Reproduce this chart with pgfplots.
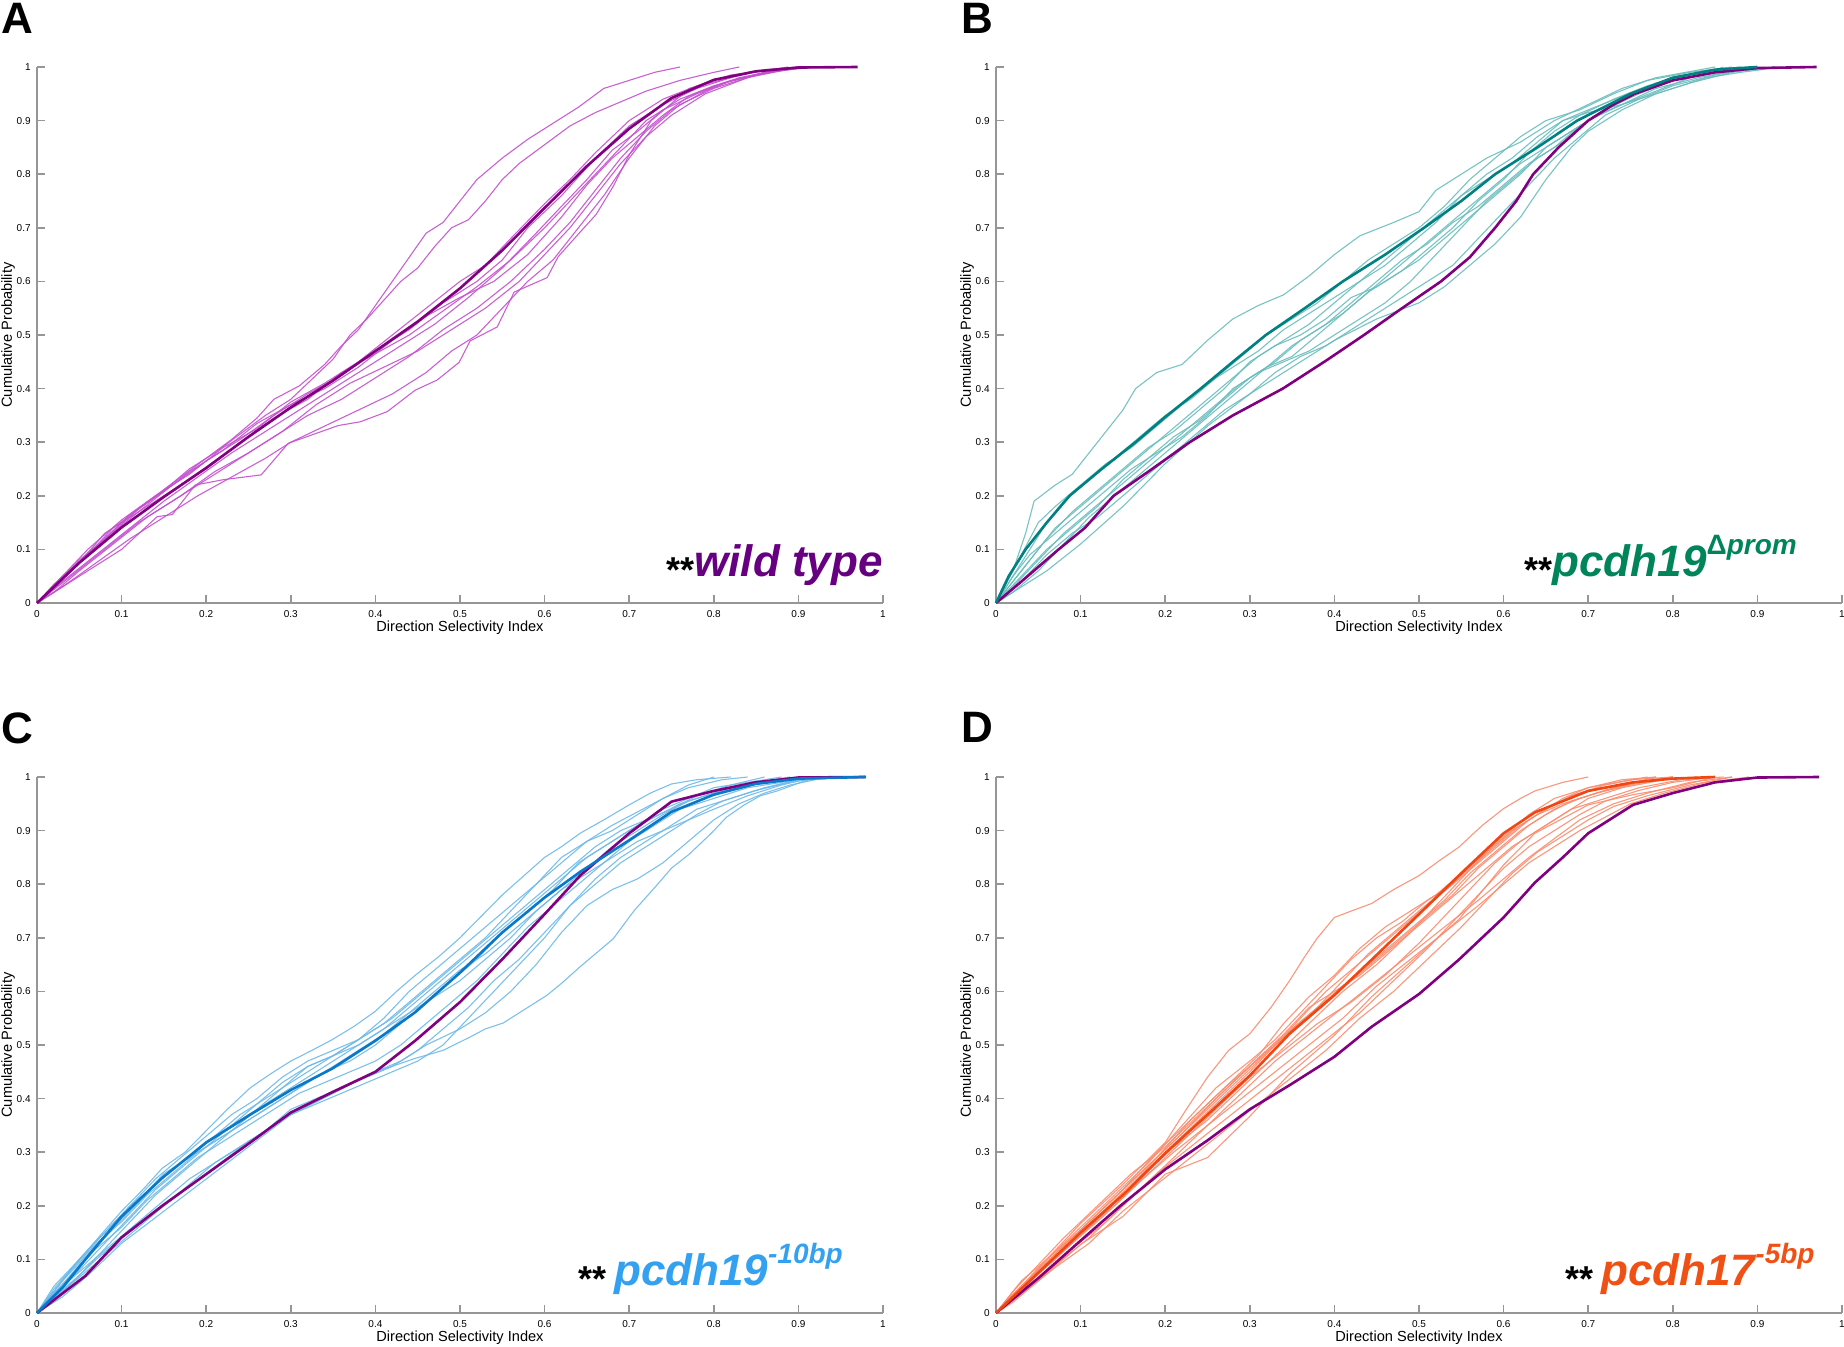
\documentclass[border=0pt]{standalone}
\usepackage{pgfplots}
\pgfplotsset{compat=1.18}
\usepackage{fontspec}
\setmainfont{Liberation Sans}
\definecolor{axgray}{RGB}{150,150,150}
\definecolor{wtThick}{RGB}{128,0,128}
\definecolor{wtThin}{RGB}{196,80,206}
\definecolor{tlThick}{RGB}{0,128,128}
\definecolor{tlThin}{RGB}{105,188,188}
\definecolor{blThick}{RGB}{10,120,200}
\definecolor{blThin}{RGB}{110,185,232}
\definecolor{orThick}{RGB}{240,70,20}
\definecolor{orThin}{RGB}{250,140,110}
\definecolor{wtLab}{RGB}{102,0,128}
\definecolor{tlLab}{RGB}{0,133,90}
\definecolor{blLab}{RGB}{51,161,240}
\definecolor{orLab}{RGB}{240,80,20}
\pgfplotsset{
 panel/.style={
  scale only axis, width=423pt, height=268pt,
  xmin=0, xmax=1, ymin=0, ymax=1,
  axis lines=left,
  axis line style={-, draw=axgray, line width=0.75pt},
  tick style={draw=axgray, line width=0.75pt},
  tick align=inside, major tick length=4pt,
  xtick={0,0.1,0.2,0.3,0.4,0.5,0.6,0.7,0.8,0.9,1},
  ytick={0,0.1,0.2,0.3,0.4,0.5,0.6,0.7,0.8,0.9,1},
  /pgf/number format/assume math mode=true,
  ticklabel style={font=\fontsize{5}{6}\selectfont, text=black},
  yticklabel style={inner sep=0pt, xshift=-3pt},
  xticklabel style={inner sep=0pt, yshift=-3.5pt},
  xlabel={Direction Selectivity Index},
  ylabel={Cumulative Probability},
  label style={font=\fontsize{7.3}{8}\selectfont},
  xlabel style={at={(axis description cs:0.5,-0.047)}, anchor=center},
  ylabel style={at={(axis description cs:-0.0343,0.5)}, anchor=center},
  clip=false,
  line join=round,
 },
 thinA/.style={wtThin, line width=0.55pt, opacity=0.9},
 thinB/.style={tlThin, line width=0.55pt, opacity=0.9},
 thinC/.style={blThin, line width=0.55pt, opacity=0.9},
 thinD/.style={orThin, line width=0.55pt, opacity=0.9},
 thickW/.style={wtThick, line width=1.3pt},
}
\newcommand{\stars}{{\color{black}\upshape\fontsize{18}{18}\selectfont\raisebox{-3pt}{**}}}
\begin{document}
\begin{tikzpicture}
\path[use as bounding box] (0,0) rectangle (922pt,673pt);
\node[anchor=north west, inner sep=0pt, font=\fontsize{22}{22}\selectfont\bfseries] at (0.5pt,671.5pt) {A};
\node[anchor=north west, inner sep=0pt, font=\fontsize{22}{22}\selectfont\bfseries] at (480.5pt,671.5pt) {B};
\node[anchor=north west, inner sep=0pt, font=\fontsize{22}{22}\selectfont\bfseries] at (0.5pt,317pt) {C};
\node[anchor=north west, inner sep=0pt, font=\fontsize{22}{22}\selectfont\bfseries] at (480.5pt,317pt) {D};

% ---------------- Panel A ----------------
\begin{axis}[panel, at={(18.5pt,371.5pt)}, anchor=south west]
\addplot[thinA] coordinates {(0,0)(0.02,0.03)(0.05,0.08)(0.08,0.12)(0.11,0.165)(0.14,0.2)(0.17,0.235)(0.2,0.27)(0.23,0.305)(0.26,0.345)(0.28,0.38)(0.31,0.405)(0.34,0.445)(0.36,0.48)(0.38,0.51)(0.4,0.555)(0.42,0.6)(0.44,0.645)(0.46,0.69)(0.48,0.71)(0.5,0.75)(0.52,0.79)(0.55,0.83)(0.58,0.865)(0.61,0.895)(0.64,0.925)(0.67,0.96)(0.7,0.975)(0.73,0.99)(0.76,1)};
\addplot[thinA] coordinates {(0,0)(0.03,0.045)(0.06,0.09)(0.09,0.14)(0.12,0.175)(0.15,0.21)(0.18,0.25)(0.21,0.28)(0.24,0.315)(0.27,0.35)(0.3,0.38)(0.33,0.425)(0.35,0.455)(0.37,0.5)(0.39,0.53)(0.41,0.565)(0.43,0.6)(0.45,0.625)(0.47,0.665)(0.49,0.7)(0.51,0.715)(0.53,0.75)(0.55,0.79)(0.57,0.82)(0.6,0.855)(0.63,0.89)(0.66,0.915)(0.69,0.935)(0.72,0.955)(0.76,0.975)(0.8,0.99)(0.83,1)};
\addplot[thinA] coordinates {(0,0)(0.03,0.05)(0.06,0.1)(0.1,0.155)(0.14,0.2)(0.18,0.24)(0.22,0.29)(0.26,0.325)(0.3,0.375)(0.34,0.41)(0.38,0.45)(0.42,0.5)(0.46,0.55)(0.5,0.6)(0.53,0.63)(0.56,0.68)(0.6,0.745)(0.63,0.79)(0.66,0.84)(0.7,0.9)(0.74,0.94)(0.78,0.965)(0.82,0.985)(0.87,0.995)(0.9,1)};
\addplot[thinA] coordinates {(0,0)(0.04,0.06)(0.08,0.12)(0.12,0.175)(0.16,0.22)(0.2,0.265)(0.24,0.305)(0.28,0.35)(0.32,0.39)(0.36,0.425)(0.4,0.47)(0.44,0.51)(0.48,0.56)(0.52,0.6)(0.55,0.64)(0.58,0.7)(0.62,0.76)(0.66,0.83)(0.7,0.89)(0.74,0.93)(0.78,0.96)(0.82,0.98)(0.86,0.995)(0.9,1)};
\addplot[thinA] coordinates {(0,0)(0.03,0.04)(0.07,0.09)(0.11,0.14)(0.15,0.19)(0.19,0.235)(0.23,0.28)(0.27,0.32)(0.31,0.36)(0.35,0.4)(0.39,0.44)(0.43,0.48)(0.47,0.52)(0.51,0.57)(0.55,0.625)(0.59,0.69)(0.62,0.74)(0.65,0.79)(0.68,0.845)(0.71,0.88)(0.74,0.92)(0.78,0.95)(0.82,0.975)(0.86,0.99)(0.92,1)};
\addplot[thinA] coordinates {(0,0)(0.02,0.035)(0.05,0.075)(0.08,0.13)(0.12,0.17)(0.16,0.21)(0.2,0.25)(0.24,0.3)(0.28,0.345)(0.32,0.38)(0.36,0.43)(0.4,0.465)(0.44,0.5)(0.48,0.545)(0.52,0.59)(0.56,0.64)(0.6,0.7)(0.63,0.75)(0.66,0.8)(0.69,0.85)(0.72,0.9)(0.76,0.94)(0.8,0.965)(0.85,0.985)(0.9,0.998)(0.94,1)};
\addplot[thinA] coordinates {(0,0)(0.04,0.05)(0.08,0.1)(0.12,0.15)(0.16,0.19)(0.2,0.23)(0.24,0.27)(0.28,0.31)(0.32,0.35)(0.36,0.38)(0.4,0.42)(0.44,0.46)(0.48,0.51)(0.52,0.55)(0.56,0.6)(0.6,0.66)(0.63,0.71)(0.66,0.77)(0.69,0.83)(0.72,0.88)(0.75,0.92)(0.79,0.955)(0.83,0.98)(0.88,0.995)(0.92,1)};
\addplot[thinA] coordinates {(0,0)(0.03,0.03)(0.07,0.075)(0.11,0.12)(0.15,0.16)(0.19,0.2)(0.23,0.235)(0.27,0.27)(0.3,0.3)(0.34,0.33)(0.38,0.36)(0.42,0.39)(0.46,0.43)(0.49,0.47)(0.52,0.5)(0.55,0.55)(0.58,0.6)(0.61,0.64)(0.64,0.7)(0.67,0.76)(0.7,0.83)(0.73,0.89)(0.76,0.93)(0.8,0.96)(0.85,0.985)(0.9,1)};
\addplot[thinA] coordinates {(0,0)(0.03,0.03)(0.06,0.06)(0.1,0.1)(0.142,0.161)(0.16,0.165)(0.187,0.22)(0.22,0.23)(0.265,0.239)(0.297,0.298)(0.356,0.331)(0.382,0.338)(0.414,0.357)(0.447,0.397)(0.473,0.416)(0.499,0.449)(0.512,0.489)(0.544,0.515)(0.564,0.58)(0.603,0.607)(0.616,0.646)(0.642,0.692)(0.661,0.725)(0.681,0.777)(0.7,0.836)(0.726,0.9)(0.771,0.96)(0.836,0.987)(0.888,1)};
\addplot[thinA] coordinates {(0,0)(0.02,0.02)(0.05,0.06)(0.09,0.11)(0.13,0.16)(0.17,0.2)(0.21,0.245)(0.25,0.28)(0.29,0.32)(0.33,0.37)(0.37,0.41)(0.41,0.44)(0.45,0.47)(0.49,0.51)(0.53,0.55)(0.57,0.6)(0.6,0.65)(0.63,0.7)(0.66,0.76)(0.69,0.82)(0.72,0.87)(0.75,0.91)(0.79,0.95)(0.84,0.98)(0.9,1)};
\addplot[thinA] coordinates {(0,0)(0.03,0.05)(0.06,0.09)(0.1,0.145)(0.14,0.195)(0.18,0.245)(0.22,0.285)(0.26,0.335)(0.3,0.37)(0.34,0.4)(0.38,0.44)(0.42,0.49)(0.46,0.535)(0.5,0.57)(0.54,0.6)(0.58,0.65)(0.62,0.72)(0.65,0.78)(0.68,0.83)(0.71,0.87)(0.74,0.91)(0.77,0.945)(0.81,0.97)(0.86,0.99)(0.9,1)};
\addplot[thickW] coordinates {(0,0)(0.05,0.075)(0.1,0.141)(0.15,0.198)(0.2,0.252)(0.25,0.31)(0.3,0.365)(0.35,0.415)(0.4,0.47)(0.45,0.525)(0.5,0.587)(0.55,0.658)(0.6,0.737)(0.65,0.815)(0.7,0.885)(0.75,0.942)(0.8,0.976)(0.85,0.992)(0.9,0.999)(0.97,1)};
\node[anchor=base east, inner sep=0pt, text=wtLab, font=\fontsize{22}{22}\selectfont\bfseries\itshape] at (rel axis cs:1,0.05) {\stars wild type};
\end{axis}

% ---------------- Panel B ----------------
\begin{axis}[panel, at={(498pt,371.5pt)}, anchor=south west]
\addplot[thinB] coordinates {(0,0)(0.02,0.06)(0.035,0.13)(0.045,0.19)(0.07,0.22)(0.09,0.24)(0.11,0.28)(0.13,0.32)(0.15,0.36)(0.165,0.4)(0.19,0.43)(0.22,0.445)(0.25,0.49)(0.28,0.53)(0.31,0.555)(0.34,0.575)(0.37,0.61)(0.4,0.65)(0.43,0.685)(0.47,0.71)(0.5,0.73)(0.52,0.77)(0.55,0.8)(0.58,0.83)(0.62,0.86)(0.66,0.9)(0.7,0.93)(0.74,0.96)(0.78,0.98)(0.85,1)};
\addplot[thinB] coordinates {(0,0)(0.02,0.05)(0.04,0.1)(0.06,0.15)(0.08,0.19)(0.11,0.23)(0.14,0.27)(0.17,0.31)(0.2,0.35)(0.23,0.38)(0.26,0.42)(0.29,0.46)(0.32,0.5)(0.35,0.53)(0.38,0.56)(0.41,0.6)(0.44,0.64)(0.47,0.67)(0.5,0.7)(0.53,0.74)(0.56,0.79)(0.59,0.83)(0.62,0.87)(0.65,0.9)(0.69,0.92)(0.73,0.95)(0.77,0.975)(0.82,0.99)(0.87,1)};
\addplot[thinB] coordinates {(0,0)(0.02,0.04)(0.045,0.09)(0.07,0.14)(0.1,0.18)(0.13,0.22)(0.16,0.26)(0.19,0.3)(0.22,0.34)(0.25,0.38)(0.28,0.42)(0.31,0.46)(0.34,0.49)(0.37,0.52)(0.4,0.56)(0.43,0.6)(0.46,0.63)(0.49,0.67)(0.52,0.71)(0.55,0.76)(0.58,0.8)(0.61,0.83)(0.64,0.87)(0.67,0.9)(0.7,0.92)(0.74,0.945)(0.78,0.97)(0.83,0.99)(0.88,1)};
\addplot[thinB] coordinates {(0,0)(0.03,0.06)(0.06,0.12)(0.09,0.17)(0.12,0.21)(0.15,0.25)(0.18,0.29)(0.21,0.32)(0.24,0.36)(0.27,0.4)(0.3,0.45)(0.33,0.48)(0.36,0.5)(0.39,0.53)(0.42,0.57)(0.45,0.59)(0.48,0.62)(0.51,0.66)(0.54,0.7)(0.57,0.75)(0.6,0.79)(0.63,0.84)(0.66,0.88)(0.69,0.91)(0.73,0.94)(0.77,0.965)(0.82,0.985)(0.88,1)};
\addplot[thinB] coordinates {(0,0)(0.02,0.03)(0.05,0.08)(0.08,0.13)(0.11,0.17)(0.14,0.21)(0.17,0.25)(0.2,0.29)(0.23,0.33)(0.26,0.37)(0.29,0.41)(0.32,0.44)(0.35,0.46)(0.38,0.5)(0.41,0.54)(0.44,0.58)(0.47,0.61)(0.5,0.64)(0.53,0.68)(0.56,0.72)(0.59,0.76)(0.62,0.8)(0.65,0.85)(0.68,0.88)(0.72,0.92)(0.76,0.95)(0.8,0.975)(0.86,0.995)(0.9,1)};
\addplot[thinB] coordinates {(0,0)(0.03,0.04)(0.06,0.09)(0.09,0.13)(0.12,0.16)(0.15,0.2)(0.18,0.24)(0.21,0.28)(0.24,0.32)(0.27,0.36)(0.3,0.39)(0.33,0.43)(0.36,0.46)(0.39,0.48)(0.42,0.51)(0.45,0.54)(0.48,0.57)(0.51,0.6)(0.54,0.63)(0.57,0.68)(0.6,0.73)(0.63,0.78)(0.66,0.83)(0.69,0.87)(0.72,0.91)(0.76,0.94)(0.8,0.965)(0.85,0.985)(0.9,1)};
\addplot[thinB] coordinates {(0,0)(0.03,0.03)(0.06,0.06)(0.1,0.11)(0.15,0.18)(0.2,0.26)(0.25,0.33)(0.3,0.39)(0.35,0.44)(0.4,0.49)(0.45,0.53)(0.5,0.56)(0.53,0.59)(0.56,0.63)(0.59,0.67)(0.62,0.72)(0.65,0.79)(0.68,0.85)(0.7,0.88)(0.74,0.92)(0.78,0.95)(0.82,0.97)(0.87,0.99)(0.92,1)};
\addplot[thinB] coordinates {(0,0)(0.02,0.05)(0.04,0.09)(0.07,0.13)(0.1,0.17)(0.13,0.21)(0.16,0.25)(0.19,0.28)(0.22,0.31)(0.25,0.35)(0.28,0.4)(0.31,0.43)(0.34,0.45)(0.37,0.47)(0.4,0.5)(0.43,0.53)(0.46,0.56)(0.49,0.6)(0.52,0.65)(0.55,0.7)(0.58,0.75)(0.61,0.79)(0.64,0.83)(0.67,0.86)(0.7,0.9)(0.74,0.93)(0.78,0.96)(0.83,0.98)(0.88,0.995)(0.92,1)};
\addplot[thinB] coordinates {(0,0)(0.01,0.03)(0.03,0.09)(0.05,0.15)(0.07,0.18)(0.1,0.22)(0.13,0.26)(0.16,0.29)(0.19,0.33)(0.22,0.37)(0.25,0.41)(0.28,0.44)(0.31,0.47)(0.34,0.51)(0.37,0.54)(0.4,0.57)(0.43,0.6)(0.46,0.64)(0.49,0.68)(0.52,0.72)(0.55,0.76)(0.58,0.79)(0.61,0.82)(0.64,0.86)(0.67,0.9)(0.7,0.915)(0.74,0.93)(0.78,0.955)(0.82,0.98)(0.86,1)};
\addplot[thinB] coordinates {(0,0)(0.03,0.05)(0.06,0.1)(0.09,0.14)(0.12,0.18)(0.15,0.23)(0.18,0.27)(0.21,0.31)(0.24,0.34)(0.27,0.38)(0.3,0.42)(0.33,0.45)(0.36,0.49)(0.39,0.52)(0.42,0.56)(0.45,0.6)(0.48,0.64)(0.51,0.67)(0.54,0.71)(0.57,0.74)(0.6,0.78)(0.63,0.82)(0.66,0.85)(0.69,0.89)(0.72,0.92)(0.75,0.95)(0.79,0.97)(0.84,0.99)(0.9,1)};
\addplot[thinB] coordinates {(0,0)(0.02,0.02)(0.05,0.06)(0.08,0.11)(0.11,0.16)(0.14,0.2)(0.17,0.24)(0.2,0.28)(0.23,0.32)(0.26,0.36)(0.29,0.4)(0.32,0.44)(0.35,0.48)(0.38,0.51)(0.41,0.54)(0.44,0.58)(0.47,0.62)(0.5,0.66)(0.53,0.7)(0.56,0.74)(0.59,0.78)(0.62,0.82)(0.65,0.85)(0.68,0.88)(0.71,0.91)(0.74,0.93)(0.77,0.945)(0.8,0.96)(0.84,0.98)(0.88,0.99)(0.93,1)};
\addplot[thickW] coordinates {(0,0)(0.03,0.04)(0.074,0.1)(0.105,0.14)(0.139,0.2)(0.18,0.245)(0.229,0.3)(0.28,0.35)(0.339,0.4)(0.39,0.452)(0.435,0.5)(0.48,0.55)(0.526,0.6)(0.56,0.645)(0.59,0.7)(0.615,0.75)(0.635,0.8)(0.665,0.85)(0.7,0.9)(0.73,0.93)(0.755,0.95)(0.8,0.975)(0.85,0.99)(0.9,0.998)(0.97,1)};
\addplot[tlThick, line width=1.3pt] coordinates {(0,0)(0.015,0.05)(0.035,0.1)(0.06,0.15)(0.087,0.2)(0.125,0.25)(0.165,0.3)(0.2,0.347)(0.242,0.4)(0.28,0.45)(0.319,0.5)(0.365,0.55)(0.41,0.6)(0.46,0.65)(0.506,0.7)(0.55,0.75)(0.59,0.8)(0.64,0.85)(0.687,0.9)(0.75,0.95)(0.8,0.98)(0.85,0.995)(0.9,1)};
\node[anchor=base east, inner sep=0pt, text=tlLab, font=\fontsize{22}{22}\selectfont\bfseries\itshape] at (rel axis cs:0.947,0.05) {\stars pcdh19\raisebox{11pt}{\fontsize{14}{14}\selectfont{\upshape Δ}prom}};
\end{axis}

% ---------------- Panel C ----------------
\begin{axis}[panel, at={(18.5pt,16.5pt)}, anchor=south west]
\addplot[thinC] coordinates {(0,0)(0.02,0.045)(0.05,0.1)(0.075,0.145)(0.1,0.19)(0.125,0.23)(0.148,0.27)(0.175,0.3)(0.2,0.34)(0.225,0.38)(0.252,0.42)(0.275,0.445)(0.3,0.47)(0.325,0.49)(0.349,0.51)(0.375,0.535)(0.4,0.563)(0.425,0.6)(0.447,0.63)(0.475,0.665)(0.5,0.7)(0.525,0.74)(0.55,0.78)(0.575,0.815)(0.6,0.85)(0.62,0.87)(0.642,0.895)(0.67,0.92)(0.7,0.948)(0.725,0.97)(0.75,0.987)(0.78,0.995)(0.82,1)};
\addplot[thinC] coordinates {(0,0)(0.03,0.03)(0.06,0.07)(0.1,0.13)(0.15,0.19)(0.2,0.25)(0.25,0.31)(0.3,0.37)(0.35,0.41)(0.382,0.436)(0.41,0.455)(0.447,0.475)(0.48,0.49)(0.512,0.515)(0.53,0.53)(0.551,0.541)(0.575,0.565)(0.603,0.593)(0.62,0.615)(0.642,0.646)(0.66,0.67)(0.681,0.698)(0.706,0.751)(0.732,0.797)(0.75,0.83)(0.771,0.856)(0.797,0.895)(0.815,0.925)(0.836,0.948)(0.855,0.965)(0.875,0.974)(0.908,0.993)(0.93,1)};
\addplot[thinC] coordinates {(0,0)(0.03,0.04)(0.07,0.1)(0.1,0.14)(0.15,0.2)(0.2,0.26)(0.25,0.32)(0.3,0.37)(0.35,0.41)(0.4,0.45)(0.43,0.47)(0.46,0.5)(0.5,0.53)(0.53,0.56)(0.56,0.6)(0.59,0.65)(0.62,0.71)(0.65,0.76)(0.68,0.79)(0.71,0.81)(0.74,0.84)(0.77,0.88)(0.8,0.92)(0.83,0.95)(0.86,0.97)(0.89,0.985)(0.92,0.995)(0.95,1)};
\addplot[thinC] coordinates {(0,0)(0.02,0.035)(0.05,0.09)(0.08,0.14)(0.11,0.19)(0.14,0.24)(0.17,0.28)(0.2,0.32)(0.23,0.35)(0.26,0.38)(0.29,0.42)(0.32,0.46)(0.35,0.48)(0.38,0.5)(0.41,0.53)(0.44,0.57)(0.47,0.61)(0.5,0.65)(0.53,0.69)(0.56,0.73)(0.59,0.77)(0.62,0.81)(0.65,0.85)(0.68,0.88)(0.71,0.91)(0.74,0.94)(0.77,0.96)(0.8,0.98)(0.84,0.99)(0.88,1)};
\addplot[thinC] coordinates {(0,0)(0.03,0.06)(0.06,0.11)(0.09,0.16)(0.12,0.21)(0.15,0.26)(0.18,0.29)(0.21,0.33)(0.24,0.37)(0.27,0.4)(0.3,0.43)(0.33,0.46)(0.36,0.49)(0.39,0.52)(0.42,0.55)(0.45,0.59)(0.48,0.63)(0.51,0.67)(0.54,0.71)(0.57,0.75)(0.6,0.79)(0.63,0.83)(0.66,0.87)(0.69,0.9)(0.72,0.92)(0.75,0.94)(0.78,0.965)(0.82,0.985)(0.86,1)};
\addplot[thinC] coordinates {(0,0)(0.02,0.03)(0.05,0.08)(0.08,0.13)(0.11,0.18)(0.14,0.23)(0.17,0.27)(0.2,0.31)(0.23,0.34)(0.26,0.37)(0.29,0.4)(0.32,0.43)(0.35,0.46)(0.38,0.49)(0.41,0.52)(0.44,0.56)(0.47,0.6)(0.5,0.64)(0.53,0.67)(0.56,0.71)(0.59,0.75)(0.62,0.79)(0.65,0.83)(0.68,0.87)(0.71,0.9)(0.74,0.93)(0.77,0.955)(0.81,0.975)(0.85,0.99)(0.89,1)};
\addplot[thinC] coordinates {(0,0)(0.02,0.04)(0.05,0.1)(0.08,0.15)(0.11,0.2)(0.14,0.25)(0.17,0.29)(0.2,0.33)(0.23,0.37)(0.26,0.4)(0.29,0.44)(0.32,0.47)(0.35,0.49)(0.38,0.51)(0.41,0.54)(0.44,0.58)(0.47,0.62)(0.5,0.66)(0.53,0.7)(0.56,0.75)(0.59,0.8)(0.62,0.84)(0.65,0.88)(0.68,0.91)(0.71,0.935)(0.74,0.96)(0.77,0.98)(0.81,0.995)(0.84,1)};
\addplot[thinC] coordinates {(0,0)(0.03,0.04)(0.06,0.08)(0.09,0.12)(0.12,0.16)(0.15,0.2)(0.18,0.24)(0.21,0.28)(0.24,0.31)(0.27,0.34)(0.3,0.37)(0.33,0.39)(0.36,0.41)(0.39,0.43)(0.42,0.45)(0.45,0.47)(0.48,0.5)(0.51,0.55)(0.54,0.6)(0.57,0.65)(0.6,0.7)(0.63,0.76)(0.66,0.81)(0.69,0.85)(0.72,0.88)(0.75,0.91)(0.78,0.94)(0.82,0.96)(0.86,0.98)(0.9,0.995)(0.94,1)};
\addplot[thinC] coordinates {(0,0)(0.03,0.05)(0.06,0.09)(0.09,0.13)(0.12,0.17)(0.15,0.21)(0.18,0.25)(0.21,0.28)(0.24,0.31)(0.27,0.34)(0.3,0.38)(0.33,0.4)(0.36,0.42)(0.39,0.44)(0.42,0.46)(0.45,0.49)(0.48,0.53)(0.51,0.57)(0.54,0.62)(0.57,0.66)(0.6,0.71)(0.63,0.76)(0.66,0.8)(0.69,0.84)(0.72,0.87)(0.75,0.9)(0.78,0.93)(0.81,0.955)(0.85,0.975)(0.89,0.99)(0.93,1)};
\addplot[thinC] coordinates {(0,0)(0.02,0.04)(0.04,0.08)(0.07,0.13)(0.1,0.17)(0.13,0.22)(0.16,0.26)(0.19,0.3)(0.22,0.33)(0.25,0.36)(0.28,0.39)(0.31,0.42)(0.34,0.45)(0.37,0.47)(0.4,0.5)(0.43,0.54)(0.46,0.58)(0.49,0.62)(0.52,0.66)(0.55,0.71)(0.58,0.75)(0.61,0.79)(0.64,0.84)(0.67,0.87)(0.7,0.9)(0.73,0.925)(0.76,0.95)(0.8,0.97)(0.85,0.99)(0.9,1)};
\addplot[thinC] coordinates {(0,0)(0.01,0.02)(0.04,0.07)(0.07,0.12)(0.1,0.16)(0.13,0.21)(0.16,0.25)(0.19,0.29)(0.22,0.32)(0.25,0.35)(0.28,0.38)(0.31,0.41)(0.34,0.43)(0.37,0.45)(0.4,0.47)(0.43,0.5)(0.46,0.54)(0.49,0.58)(0.52,0.62)(0.55,0.67)(0.58,0.72)(0.61,0.76)(0.64,0.8)(0.67,0.84)(0.7,0.88)(0.73,0.91)(0.76,0.94)(0.8,0.96)(0.84,0.98)(0.88,0.99)(0.92,1)};
\addplot[thinC] coordinates {(0,0)(0.02,0.05)(0.05,0.1)(0.08,0.15)(0.11,0.2)(0.14,0.24)(0.17,0.28)(0.2,0.31)(0.23,0.35)(0.26,0.39)(0.29,0.43)(0.32,0.46)(0.35,0.48)(0.38,0.51)(0.41,0.55)(0.44,0.6)(0.47,0.64)(0.5,0.68)(0.53,0.72)(0.56,0.76)(0.59,0.8)(0.62,0.85)(0.65,0.88)(0.68,0.9)(0.71,0.93)(0.74,0.96)(0.77,0.985)(0.8,1)};
\addplot[thinC] coordinates {(0,0)(0.02,0.03)(0.05,0.07)(0.08,0.12)(0.11,0.17)(0.14,0.22)(0.17,0.26)(0.2,0.3)(0.23,0.34)(0.26,0.38)(0.29,0.41)(0.32,0.44)(0.35,0.47)(0.38,0.5)(0.41,0.53)(0.44,0.56)(0.47,0.59)(0.5,0.62)(0.53,0.66)(0.56,0.7)(0.59,0.75)(0.62,0.79)(0.65,0.82)(0.68,0.85)(0.71,0.88)(0.74,0.9)(0.77,0.92)(0.8,0.94)(0.84,0.965)(0.88,0.985)(0.92,1)};
\addplot[thickW] coordinates {(0,0)(0.057,0.069)(0.1,0.141)(0.148,0.2)(0.2,0.259)(0.252,0.318)(0.3,0.374)(0.349,0.412)(0.4,0.45)(0.447,0.508)(0.5,0.58)(0.55,0.66)(0.6,0.744)(0.642,0.816)(0.7,0.895)(0.75,0.954)(0.8,0.974)(0.849,0.99)(0.9,0.999)(0.979,1)};
\addplot[blThick, line width=1.3pt] coordinates {(0,0)(0.031,0.049)(0.065,0.115)(0.1,0.18)(0.148,0.252)(0.2,0.318)(0.252,0.37)(0.3,0.416)(0.349,0.456)(0.4,0.508)(0.447,0.561)(0.5,0.635)(0.55,0.71)(0.6,0.775)(0.642,0.823)(0.7,0.882)(0.75,0.935)(0.8,0.967)(0.849,0.987)(0.9,0.997)(0.98,1)};
\node[anchor=base east, inner sep=0pt, text=blLab, font=\fontsize{22}{22}\selectfont\bfseries\itshape] at (rel axis cs:0.953,0.052) {\stars\hspace{4pt}pcdh19\raisebox{11pt}{\fontsize{14}{14}\selectfont -10bp}};
\end{axis}

% ---------------- Panel D ----------------
\begin{axis}[panel, at={(498pt,16.5pt)}, anchor=south west]
\addplot[thinD] coordinates {(0,0)(0.03,0.05)(0.06,0.1)(0.1,0.167)(0.15,0.24)(0.2,0.318)(0.225,0.38)(0.25,0.44)(0.275,0.49)(0.3,0.521)(0.325,0.57)(0.347,0.62)(0.365,0.665)(0.379,0.698)(0.4,0.738)(0.42,0.75)(0.444,0.764)(0.47,0.79)(0.5,0.816)(0.525,0.845)(0.547,0.869)(0.575,0.91)(0.6,0.941)(0.62,0.96)(0.637,0.974)(0.67,0.99)(0.7,1)};
\addplot[thinD] coordinates {(0,0)(0.05,0.06)(0.1,0.128)(0.15,0.18)(0.2,0.259)(0.25,0.29)(0.3,0.367)(0.347,0.446)(0.4,0.518)(0.444,0.59)(0.5,0.669)(0.547,0.734)(0.6,0.836)(0.637,0.895)(0.7,0.948)(0.753,0.967)(0.8,0.98)(0.85,1)};
\addplot[thinD] coordinates {(0,0)(0.03,0.04)(0.06,0.09)(0.1,0.15)(0.14,0.21)(0.18,0.27)(0.22,0.33)(0.26,0.39)(0.3,0.45)(0.33,0.5)(0.36,0.55)(0.39,0.6)(0.42,0.64)(0.45,0.68)(0.48,0.72)(0.51,0.76)(0.54,0.8)(0.57,0.85)(0.6,0.89)(0.63,0.93)(0.66,0.96)(0.7,0.98)(0.75,0.995)(0.8,1)};
\addplot[thinD] coordinates {(0,0)(0.03,0.05)(0.07,0.11)(0.11,0.17)(0.15,0.23)(0.19,0.29)(0.23,0.35)(0.27,0.41)(0.31,0.47)(0.35,0.53)(0.38,0.57)(0.41,0.62)(0.44,0.67)(0.47,0.71)(0.5,0.75)(0.53,0.79)(0.56,0.83)(0.59,0.87)(0.62,0.91)(0.65,0.94)(0.68,0.965)(0.72,0.985)(0.77,1)};
\addplot[thinD] coordinates {(0,0)(0.02,0.03)(0.05,0.08)(0.09,0.13)(0.13,0.19)(0.17,0.25)(0.21,0.31)(0.25,0.36)(0.29,0.42)(0.33,0.48)(0.37,0.54)(0.41,0.6)(0.45,0.65)(0.49,0.71)(0.52,0.75)(0.55,0.79)(0.58,0.83)(0.61,0.87)(0.64,0.9)(0.67,0.93)(0.7,0.96)(0.74,0.98)(0.79,0.995)(0.83,1)};
\addplot[thinD] coordinates {(0,0)(0.03,0.04)(0.07,0.09)(0.11,0.14)(0.15,0.2)(0.19,0.26)(0.23,0.31)(0.27,0.36)(0.31,0.41)(0.35,0.46)(0.39,0.51)(0.43,0.56)(0.47,0.62)(0.51,0.68)(0.54,0.73)(0.57,0.78)(0.6,0.83)(0.63,0.87)(0.66,0.9)(0.69,0.93)(0.72,0.955)(0.76,0.975)(0.8,0.99)(0.85,1)};
\addplot[thinD] coordinates {(0,0)(0.02,0.04)(0.05,0.09)(0.08,0.14)(0.12,0.2)(0.16,0.26)(0.2,0.31)(0.24,0.37)(0.28,0.43)(0.32,0.49)(0.35,0.53)(0.38,0.57)(0.41,0.61)(0.44,0.65)(0.47,0.69)(0.5,0.73)(0.53,0.77)(0.56,0.82)(0.59,0.86)(0.62,0.9)(0.65,0.93)(0.68,0.955)(0.72,0.975)(0.76,0.99)(0.8,1)};
\addplot[thinD] coordinates {(0,0)(0.03,0.06)(0.06,0.1)(0.1,0.16)(0.14,0.22)(0.18,0.28)(0.22,0.35)(0.26,0.42)(0.3,0.47)(0.33,0.51)(0.36,0.56)(0.39,0.61)(0.42,0.66)(0.45,0.7)(0.48,0.73)(0.51,0.77)(0.54,0.8)(0.57,0.84)(0.6,0.88)(0.63,0.92)(0.66,0.95)(0.7,0.975)(0.75,0.99)(0.8,1)};
\addplot[thinD] coordinates {(0,0)(0.03,0.035)(0.07,0.085)(0.11,0.13)(0.15,0.19)(0.19,0.24)(0.23,0.29)(0.27,0.34)(0.31,0.39)(0.35,0.44)(0.39,0.49)(0.43,0.55)(0.47,0.6)(0.51,0.66)(0.55,0.72)(0.58,0.77)(0.61,0.82)(0.64,0.86)(0.67,0.89)(0.7,0.92)(0.73,0.945)(0.77,0.965)(0.82,0.985)(0.87,1)};
\addplot[thinD] coordinates {(0,0)(0.02,0.03)(0.06,0.09)(0.1,0.15)(0.14,0.2)(0.18,0.26)(0.22,0.32)(0.26,0.38)(0.3,0.44)(0.34,0.49)(0.38,0.54)(0.42,0.58)(0.46,0.63)(0.5,0.69)(0.53,0.74)(0.56,0.79)(0.59,0.84)(0.62,0.88)(0.65,0.91)(0.68,0.94)(0.72,0.96)(0.76,0.98)(0.81,0.995)(0.86,1)};
\addplot[thinD] coordinates {(0,0)(0.03,0.05)(0.06,0.1)(0.1,0.155)(0.14,0.215)(0.18,0.275)(0.22,0.335)(0.26,0.4)(0.3,0.46)(0.34,0.52)(0.37,0.57)(0.4,0.6)(0.43,0.63)(0.46,0.67)(0.49,0.71)(0.52,0.76)(0.55,0.81)(0.58,0.86)(0.61,0.9)(0.64,0.93)(0.67,0.95)(0.71,0.97)(0.75,0.985)(0.8,1)};
\addplot[thinD] coordinates {(0,0)(0.02,0.035)(0.05,0.075)(0.09,0.13)(0.13,0.185)(0.17,0.245)(0.21,0.3)(0.25,0.35)(0.29,0.41)(0.33,0.47)(0.37,0.52)(0.41,0.57)(0.45,0.62)(0.49,0.67)(0.53,0.72)(0.57,0.77)(0.6,0.81)(0.63,0.85)(0.66,0.885)(0.69,0.92)(0.73,0.95)(0.77,0.97)(0.82,0.99)(0.87,1)};
\addplot[thinD] coordinates {(0,0)(0.03,0.045)(0.07,0.1)(0.11,0.16)(0.15,0.22)(0.19,0.29)(0.23,0.36)(0.27,0.42)(0.31,0.48)(0.34,0.54)(0.37,0.59)(0.4,0.63)(0.43,0.68)(0.46,0.72)(0.49,0.75)(0.52,0.78)(0.55,0.82)(0.58,0.86)(0.61,0.9)(0.64,0.93)(0.67,0.96)(0.7,0.98)(0.74,0.995)(0.78,1)};
\addplot[thinD] coordinates {(0,0)(0.02,0.02)(0.05,0.06)(0.09,0.12)(0.13,0.17)(0.17,0.23)(0.21,0.29)(0.25,0.35)(0.29,0.4)(0.33,0.45)(0.37,0.5)(0.41,0.55)(0.45,0.61)(0.49,0.66)(0.53,0.71)(0.57,0.76)(0.6,0.8)(0.63,0.84)(0.66,0.87)(0.69,0.9)(0.72,0.925)(0.75,0.95)(0.79,0.97)(0.84,0.99)(0.89,1)};
\addplot[thinD] coordinates {(0,0)(0.03,0.05)(0.07,0.11)(0.11,0.17)(0.15,0.23)(0.19,0.3)(0.23,0.36)(0.27,0.42)(0.3,0.46)(0.33,0.5)(0.36,0.54)(0.39,0.58)(0.42,0.62)(0.45,0.66)(0.48,0.7)(0.51,0.74)(0.54,0.78)(0.57,0.83)(0.6,0.87)(0.63,0.91)(0.66,0.94)(0.69,0.96)(0.73,0.98)(0.78,1)};
\addplot[thickW] coordinates {(0,0)(0.05,0.065)(0.1,0.135)(0.147,0.2)(0.2,0.268)(0.25,0.322)(0.3,0.38)(0.347,0.425)(0.4,0.478)(0.444,0.534)(0.5,0.595)(0.547,0.659)(0.6,0.738)(0.637,0.803)(0.67,0.85)(0.7,0.895)(0.753,0.948)(0.8,0.97)(0.85,0.99)(0.9,0.999)(0.973,1)};
\addplot[orThick, line width=1.3pt] coordinates {(0,0)(0.05,0.075)(0.1,0.15)(0.154,0.226)(0.2,0.298)(0.25,0.37)(0.3,0.443)(0.347,0.521)(0.4,0.593)(0.444,0.659)(0.5,0.744)(0.547,0.816)(0.6,0.895)(0.637,0.934)(0.7,0.974)(0.753,0.99)(0.8,0.997)(0.85,1)};
\node[anchor=base east, inner sep=0pt, text=orLab, font=\fontsize{22}{22}\selectfont\bfseries\itshape] at (rel axis cs:0.968,0.052) {\stars\hspace{4pt}pcdh17\raisebox{11pt}{\fontsize{14}{14}\selectfont -5bp}};
\end{axis}
\end{tikzpicture}
\end{document}
